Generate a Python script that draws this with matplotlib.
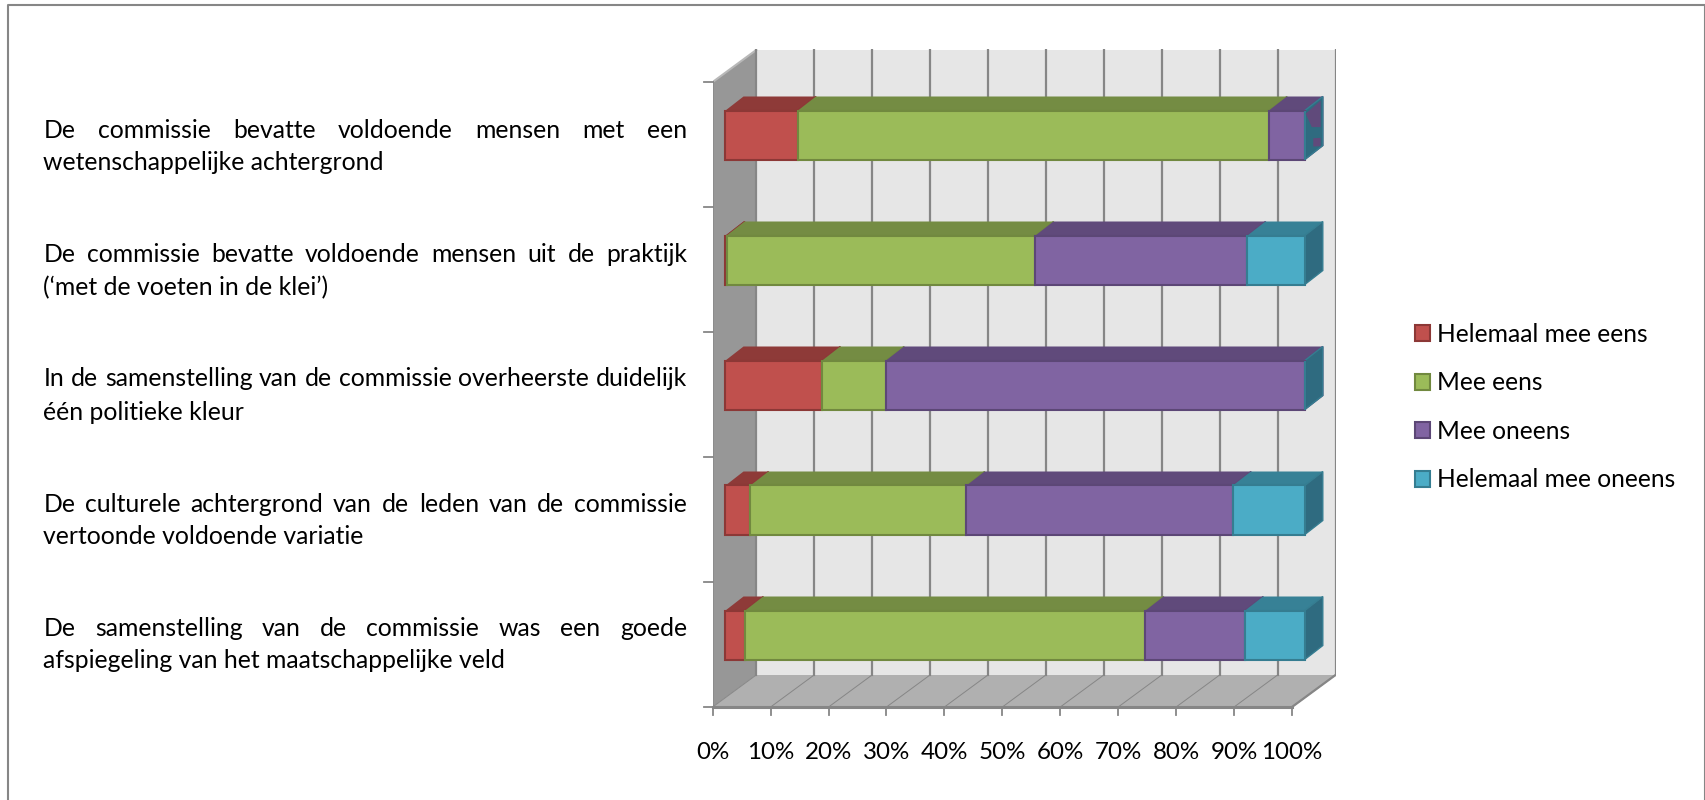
import matplotlib
matplotlib.use("Agg")
import matplotlib.pyplot as plt
from matplotlib.lines import Line2D
from matplotlib.patches import Patch
import numpy as np

plt.rcParams["font.family"] = ["Lato", "DejaVu Sans"]

# Datos (porcentajes)
series = ["Helemaal mee eens", "Mee eens", "Mee oneens", "Helemaal mee oneens"]
helemaal_eens = [12.5, 0.2, 16.7, 4.3, 3.4]
mee_eens = [81.3, 53.3, 11.0, 37.3, 69.1]
mee_oneens = [6.2, 36.6, 72.3, 46.0, 17.2]
helemaal_oneens = [0.0, 9.9, 0.0, 12.4, 10.3]
x_ticks = [0, 10, 20, 30, 40, 50, 60, 70, 80, 90, 100]

# Lineas de texto: (justificada, ultima linea)
cat_lines = [
    ("De commissie bevatte voldoende mensen met een", "wetenschappelijke achtergrond"),
    ("De commissie bevatte voldoende mensen uit de praktijk", "(‘met de voeten in de klei’)"),
    ("In de samenstelling van de commissie overheerste duidelijk", "één politieke kleur"),
    ("De culturele achtergrond van de leden van de commissie", "vertoonde voldoende variatie"),
    ("De samenstelling van de commissie was een goede", "afspiegeling van het maatschappelijke veld"),
]

front = ["#C0504D", "#9BBB59", "#8064A2", "#4BACC6"]
top = ["#8E3A38", "#748C43", "#604A7B", "#378196"]
side = ["#7C3230", "#66793A", "#54406B", "#2F6B80"]
edge = ["#8C3836", "#71893F", "#5C4776", "#357D91"]
grid = "#868686"

W, H = 1706, 800
fig = plt.figure(figsize=(W / 100, H / 100), dpi=100)

# Marco exterior (sin borde inferior visible)
fig.add_artist(Line2D([8 / W, 8 / W, 1705 / W, 1705 / W], [0, 1 - 5 / H, 1 - 5 / H, 0],
                      color=grid, lw=1.5))

# Los ejes van del borde frontal izquierdo hasta el fondo derecho
px_x0, px_x1, px_y0, px_y1 = 712.7, 1336, 707, 49
ux, uy = 5.793, 125.0  # pixeles por unidad
ax = fig.add_axes([px_x0 / W, 1 - px_y0 / H, (px_x1 - px_x0) / W, (px_y0 - px_y1) / H])
ax.set_xlim(0, (px_x1 - px_x0) / ux)
ax.set_ylim(0, (px_y0 - px_y1) / uy)
ax.axis("off")
ax.patch.set_visible(False)

depth_x, depth_y = 43.5 / ux, 32 / uy
x_end = x_ticks[-1]
y_end = len(cat_lines)

# Paredes y suelo
ax.fill([depth_x, x_end + depth_x, x_end + depth_x, depth_x],
        [depth_y, depth_y, y_end + depth_y, y_end + depth_y], color="#E6E6E6", lw=0, zorder=1)
ax.fill([0, depth_x, depth_x, 0], [0, depth_y, y_end + depth_y, y_end], color="#979797", lw=0, zorder=1)
ax.plot([0, depth_x], [y_end, y_end + depth_y], color="#B8B8B8", lw=1.5, zorder=2)
ax.plot([0, 0], [0, y_end], color="#8A8A8A", lw=1.2, zorder=2)
ax.fill([0, x_end, x_end + depth_x, depth_x], [0, 0, depth_y, depth_y], color="#B0B0B0", lw=0, zorder=1)

# Rejilla sobre la pared y el suelo
for t in x_ticks:
    ax.plot([t + depth_x, t + depth_x], [depth_y, y_end + depth_y], color=grid, lw=1.6, zorder=2)
    ax.plot([t, t + depth_x], [0, depth_y], color=grid, lw=0.7, zorder=2)
    ax.plot([t, t], [0, -8 / uy], color=grid, lw=1.3, clip_on=False, zorder=2)
    ax.text(t, -45.5 / uy, f"{t}%", ha="center", va="center", fontsize=17.4, color="black", clip_on=False)
ax.plot([0, x_end], [0, 0], color=grid, lw=2.2, zorder=2, clip_on=False)
ax.plot([x_end, x_end + depth_x], [0, depth_y], color=grid, lw=1.6, zorder=2)
for i in range(y_end + 1):
    ax.plot([0, -9 / ux], [i, i], color=grid, lw=1.3, clip_on=False, zorder=2)

# Barras apiladas con efecto 3D
offs_x, offs_y = 12.8 / ux, 9.5 / uy
bar_dx, bar_dy = 18 / ux, 14 / uy
bar_h = 49 / uy
values = np.array([helemaal_eens, mee_eens, mee_oneens, helemaal_oneens])
y_pos = y_end - np.arange(y_end) - 0.5 + offs_y
left = np.zeros(y_end)

for s in range(len(series)):
    for i in range(y_end):
        x_a = left[i] + offs_x
        x_b = x_a + values[s][i]
        y_b = y_pos[i] - bar_h / 2
        y_t = y_pos[i] + bar_h / 2
        if values[s][i] > 0:
            ax.fill([x_a, x_b, x_b + bar_dx, x_a + bar_dx], [y_t, y_t, y_t + bar_dy, y_t + bar_dy],
                    color=top[s], lw=0, zorder=3)
        ax.fill([x_b, x_b + bar_dx, x_b + bar_dx, x_b],
                [y_b, y_b + bar_dy, y_t + bar_dy, y_t], facecolor=side[s],
                edgecolor=edge[s], lw=1, zorder=3)
    ax.barh(y_pos, values[s], left=left + offs_x, height=bar_h, color=front[s],
            edgecolor=edge[s], linewidth=1.5, zorder=4)
    left += values[s]

# Restos morados en el lateral de la primera barra
x_s = 100 + offs_x
y_s = y_pos[0] - bar_h / 2
for patch in ([(.05, .92), (.88, .95), (.88, .41), (.39, .55)],
              [(.47, .3), (.88, .19), (.88, .02), (.47, .13)]):
    ax.fill([x_s + u * bar_dx for u, v in patch],
            [y_s + v * bar_h + u * bar_dy for u, v in patch], color=top[2], lw=0, zorder=5)

# Textos de categoria: primera linea justificada como en el documento
renderer = fig.canvas.get_renderer()
text_left, text_right = 43.5, 687
y_first = [130, 255, 379, 504, 629]
y_second = [163, 288, 412, 537, 661]
cat_size = 17.8


def draw_word(x_px, y_px, word):
    return fig.text(x_px / W, 1 - y_px / H, word, fontsize=cat_size, ha="left", va="center", color="black")


for (line1, line2), y1, y2 in zip(cat_lines, y_first, y_second):
    words = [draw_word(text_left, y1, w) for w in line1.split()]
    widths = [w.get_window_extent(renderer).width for w in words]
    gap = (text_right - text_left - sum(widths)) / (len(words) - 1)
    x = text_left
    for w, width in zip(words, widths):
        w.set_x(x / W)
        x += width + gap
    draw_word(text_left, y2, line2)

# Leyenda
handles = [Patch(facecolor=front[s], edgecolor=edge[s], linewidth=1.5, label=series[s]) for s in range(len(series))]
fig.legend(handles=handles, loc="center left", bbox_to_anchor=(1393 / W, 1 - 407 / H), frameon=False,
           fontsize=17.7, handlelength=0.62, handleheight=0.62, handletextpad=0.28, labelspacing=1.04,
           labelcolor="black")

fig.savefig("out.png", dpi=100)
